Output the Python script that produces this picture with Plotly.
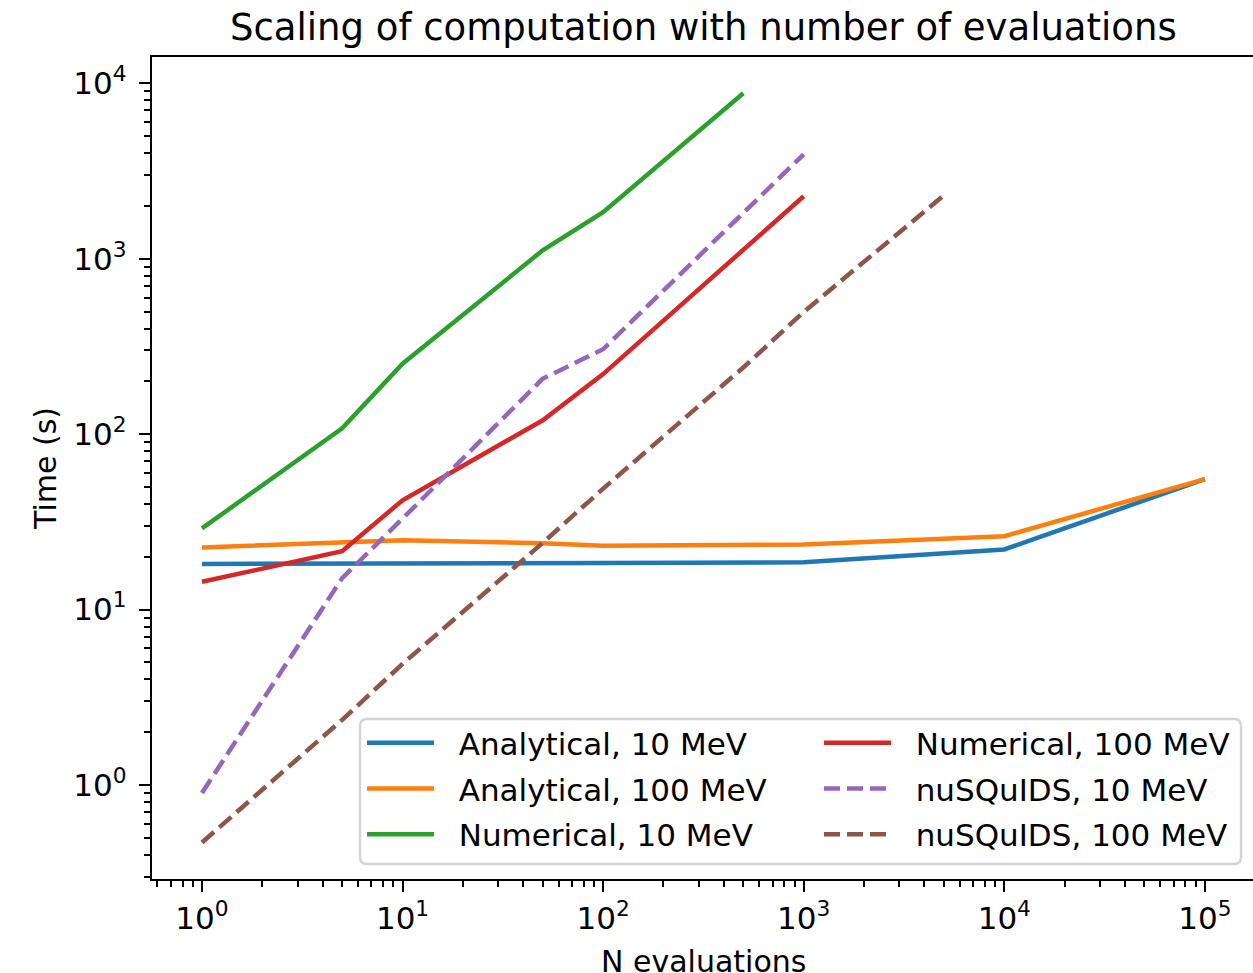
import plotly.graph_objects as go

# ---------------- data ----------------
n_analytical = [1, 5, 10, 50, 100, 1000, 10000, 100000]
analytical_10 = [18.2, 18.2, 18.2, 18.3, 18.4, 18.6, 22.0, 55.4]
analytical_100 = [22.6, 24.0, 24.8, 23.9, 23.1, 23.5, 26.2, 55.4]

n_numerical_10 = [1, 5, 10, 50, 100, 500]
numerical_10 = [29.0, 108, 252, 1117, 1841, 8770]

n_numerical_100 = [1, 5, 10, 50, 100, 1000]
numerical_100 = [14.4, 21.5, 42, 120, 220, 2270]

n_nusquids_10 = [1, 5, 10, 50, 100, 1000]
nusquids_10 = [0.90, 15.1, 33, 207, 305, 3940]

n_nusquids_100 = [1, 5, 10, 50, 100, 500, 1000, 5000]
nusquids_100 = [0.47, 2.35, 4.9, 24, 48.9, 240, 497, 2300]

names = ["Analytical, 10 MeV", "Analytical, 100 MeV", "Numerical, 10 MeV",
         "Numerical, 100 MeV", "nuSQuIDS, 10 MeV", "nuSQuIDS, 100 MeV"]
colors = ["#1f77b4", "#ff7f0e", "#2ca02c", "#d62728", "#9467bd", "#8c564b"]

major_vals = [1, 10, 100, 1000, 10000, 100000]
x_tick_text = ["10<sup>0</sup>", "10<sup>1</sup>", "10<sup>2</sup>",
               "10<sup>3</sup>", "10<sup>4</sup>", "10<sup>5</sup>"]
y_major = [1, 10, 100, 1000, 10000]
y_tick_text = ["10<sup>0</sup>", "10<sup>1</sup>", "10<sup>2</sup>",
               "10<sup>3</sup>", "10<sup>4</sup>"]

# ---------------- layout geometry (pixels) ----------------
W, H = 1253, 973
PL, PR, PT, PB = 152, 1253, 57, 879


def px_x(px):
    return (px - PL) / (PR - PL)


def px_y(py):
    return (PB - py) / (PB - PT)


FONT = "DejaVu Sans"
LW = 4.5
DASH = "16px,7px"
GAP = "\u00a0\u00a0"  # space between legend handle and label

series = [
    (n_analytical, analytical_10, "solid", "legend"),
    (n_analytical, analytical_100, "solid", "legend"),
    (n_numerical_10, numerical_10, "solid", "legend"),
    (n_numerical_100, numerical_100, "solid", "legend2"),
    (n_nusquids_10, nusquids_10, DASH, "legend2"),
    (n_nusquids_100, nusquids_100, DASH, "legend2"),
]

fig = go.Figure()
for i, (xs, ys, dash, leg) in enumerate(series):
    fig.add_trace(go.Scatter(
        x=xs, y=ys, mode="lines", name=GAP + names[i],
        line=dict(color=colors[i], width=LW, dash=dash),
        legend=leg, legendgroup=f"g{i}",
    ))

minor_x = [m * 10 ** k for k in range(-1, 6) for m in range(2, 10)]
minor_y = [m * 10 ** k for k in range(-1, 5) for m in range(2, 10)]

fig.update_xaxes(
    type="log", range=[-0.249, 5.240],
    tickmode="array", tickvals=major_vals, ticktext=x_tick_text,
    ticks="outside", ticklen=11, tickwidth=2.2, tickcolor="black",
    minor=dict(tickmode="array", tickvals=minor_x, ticks="outside",
               ticklen=6, tickwidth=1.6, tickcolor="black", showgrid=False),
    showline=True, linecolor="black", linewidth=2.4, mirror=True,
    showgrid=False, zeroline=False,
    tickfont=dict(family=FONT, size=31, color="black"),
)
fig.update_yaxes(
    type="log", range=[-0.536, 4.150],
    tickmode="array", tickvals=y_major, ticktext=y_tick_text,
    ticks="outside", ticklen=11, tickwidth=2.2, tickcolor="black",
    minor=dict(tickmode="array", tickvals=minor_y, ticks="outside",
               ticklen=6, tickwidth=1.6, tickcolor="black", showgrid=False),
    showline=True, linecolor="black", linewidth=2.4, mirror=False,
    showgrid=False, zeroline=False, ticklabelstandoff=6,
    tickfont=dict(family=FONT, size=31, color="black"),
)

# legend frame (rounded)
lx0, lx1, ly0, ly1 = px_x(360), px_x(1241), px_y(864), px_y(719)
rx, ry = 7 / (PR - PL), 7 / (PB - PT)
path = (f"M{lx0+rx},{ly0} L{lx1-rx},{ly0} Q{lx1},{ly0} {lx1},{ly0+ry} "
        f"L{lx1},{ly1-ry} Q{lx1},{ly1} {lx1-rx},{ly1} L{lx0+rx},{ly1} "
        f"Q{lx0},{ly1} {lx0},{ly1-ry} L{lx0},{ly0+ry} Q{lx0},{ly0} {lx0+rx},{ly0} Z")
fig.add_shape(type="path", path=path, xref="paper", yref="paper",
              line=dict(color="#d4d4d4", width=2.4),
              fillcolor="rgba(255,255,255,0.8)", layer="above")

leg_common = dict(
    font=dict(family=FONT, size=31, color="black"),
    bgcolor="rgba(0,0,0,0)", borderwidth=0,
    xanchor="left", yanchor="top", yref="paper", xref="paper",
    itemwidth=67, tracegroupgap=2.5, traceorder="grouped",
)

fig.update_layout(
    width=W, height=H,
    margin=dict(l=PL, r=W - PR, t=PT, b=H - PB, pad=0),
    paper_bgcolor="white", plot_bgcolor="white",
    font=dict(family=FONT, color="black"),
    showlegend=True,
    legend=dict(x=px_x(362), y=px_y(716), **leg_common),
    legend2=dict(x=px_x(819), y=px_y(716), **leg_common),
    annotations=[
        dict(text="Scaling of computation with number of evaluations",
             x=px_x(703.5), y=px_y(28), xref="paper", yref="paper",
             xanchor="center", yanchor="middle", showarrow=False,
             font=dict(family=FONT, size=37, color="black")),
        dict(text="N evaluations",
             x=px_x(703.5), y=px_y(961), xref="paper", yref="paper",
             xanchor="center", yanchor="middle", showarrow=False,
             font=dict(family=FONT, size=30, color="black")),
        dict(text="Time (s)", textangle=-90,
             x=px_x(45), y=px_y(469), xref="paper", yref="paper",
             xanchor="center", yanchor="middle", showarrow=False,
             font=dict(family=FONT, size=30, color="black")),
    ],
)

fig.write_html("out.html")
